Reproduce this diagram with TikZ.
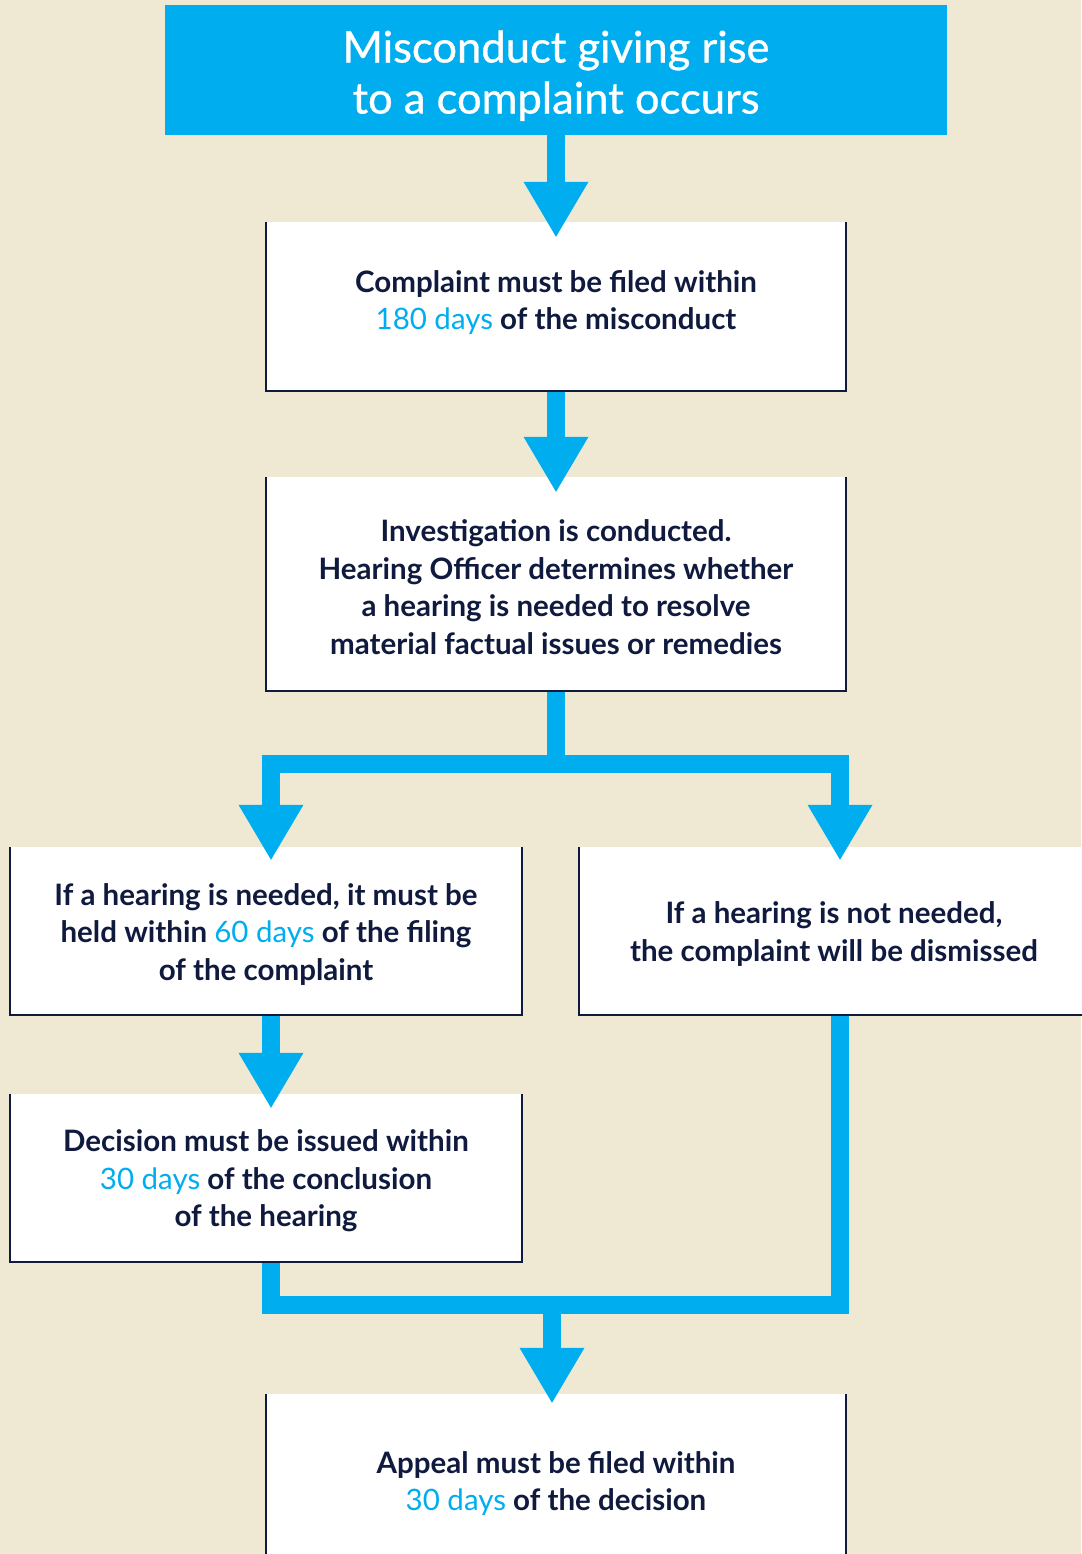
\documentclass[tikz,border=0pt]{standalone}
\usepackage{fontspec}
\setmainfont{Lato}
\newfontfamily\titlefont{Lato}[FakeBold=0.8]
\usetikzlibrary{arrows.meta,calc}
\definecolor{acc}{HTML}{00AEEF}
\definecolor{navy}{HTML}{101A3E}
\definecolor{bg}{HTML}{EFE9D3}
\newcommand{\hl}[1]{{\mdseries\color{acc}#1}}
\newcommand{\tp}{\rule{0pt}{28pt}}
\begin{document}
\begin{tikzpicture}[x=1pt,y=-1pt,
  box/.style={fill=white, inner sep=0pt, align=center, text=navy,
    font=\bfseries\fontsize{29.5}{37.5}\selectfont},
  topbox/.style={fill=acc, inner sep=0pt, align=center, text=white,
    font=\titlefont\fontsize{43.5}{51}\selectfont, minimum width=782pt, minimum height=130pt},
  edge/.style={draw=navy, line width=2.5pt, line join=miter},
  conn/.style={draw=acc, line width=17.5pt, line join=miter},
  tipd/.style={-{Triangle[width=65pt,length=55pt,line width=0pt]}}]
\fill[bg] (0,0) rectangle (1081,1554);
\useasboundingbox (0,0) rectangle (1081,1554);

\node[topbox] (top) at (556,70) {\rule{0pt}{43.5pt}Misconduct giving rise\\to a complaint occurs};
\node[box, minimum width=580pt, minimum height=169pt] (c2) at (556,306.5)
  {Complaint must be filed within\\\hl{180 days} of the misconduct\rule[-13pt]{0pt}{13pt}};
\node[box, minimum width=580pt, minimum height=214pt] (inv) at (556,584)
  {\tp Investigation is conducted.\\Hearing Officer determines whether\\a hearing is needed to resolve\\material factual issues or remedies};
\node[box, minimum width=512pt, minimum height=168pt] (l1) at (266,931)
  {\tp If a hearing is needed, it must be\\held within \hl{60 days} of the filing\\of the complaint};
\node[box, minimum width=510pt, minimum height=168pt] (r1) at (834,931)
  {\tp If a hearing is not needed,\\the complaint will be dismissed};
\node[box, minimum width=512pt, minimum height=168pt] (l2) at (266,1178)
  {\tp Decision must be issued within\\\hl{30 days} of the conclusion\\of the hearing};
\node[box, minimum width=580pt, minimum height=173pt] (app) at (556,1480.5)
  {\tp Appeal must be filed within\\\hl{30 days} of the decision};

\coordinate (split) at (556,764);
\coordinate (sl) at (271,764);
\coordinate (sr) at (840,764);
\coordinate (ml) at (271,1305);
\coordinate (mr) at (840,1305);
\coordinate (mg) at (552,1305);

\draw[conn,tipd] (top.south) -- ($(c2.north)+(0,15)$);
\draw[conn,tipd] (c2.south) -- ($(inv.north)+(0,15)$);
\draw[conn] (inv.south) -- (split);
\draw[conn,tipd] (split) -- (sl) -- ($(sl |- l1.north)+(0,13)$);
\draw[conn,tipd] (split) -- (sr) -- ($(sr |- r1.north)+(0,13)$);
\draw[conn,tipd] (l1.south -| sl) -- ($(sl |- l2.north)+(0,14)$);
\draw[conn] (l2.south -| ml) -- (ml) -- (mr) -- (r1.south -| mr);
\draw[conn,tipd] (mg) -- ($(app.north -| mg)+(0,9)$);

\foreach \b in {c2,inv,l1,r1,l2,app}
  \draw[edge] (\b.north west) -- (\b.south west) -- (\b.south east) -- (\b.north east);
\end{tikzpicture}
\end{document}
